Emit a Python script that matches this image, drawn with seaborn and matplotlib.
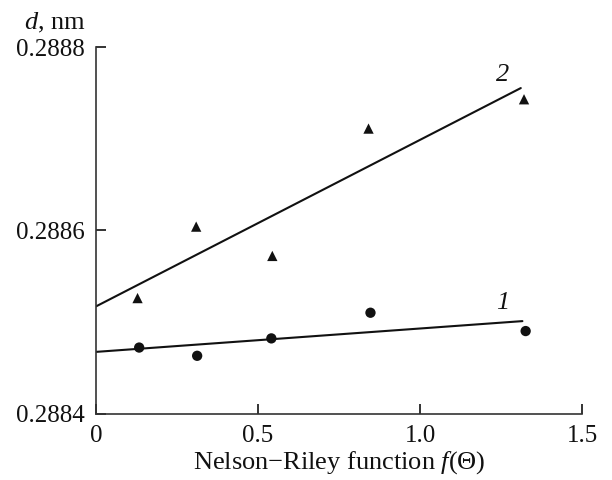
import numpy as np
import pandas as pd
import matplotlib
matplotlib.use("Agg")
import matplotlib.pyplot as plt
import seaborn as sns

# Nelson-Riley function values and interplanar spacing d (nm)
nr_x1 = [0.133, 0.312, 0.541, 0.847, 1.326]
d_1 = [0.288472, 0.288463, 0.288482, 0.288510, 0.288490]
nr_x2 = [0.128, 0.309, 0.544, 0.841, 1.321]
d_2 = [0.288526, 0.288604, 0.288572, 0.288711, 0.288743]
series_labels = ["1", "2"]

y_ticks = [0.2884, 0.2886, 0.2888]
y_tick_labels = ["0.2884", "0.2886", "0.2888"]
x_ticks = [0, 0.5, 1.0, 1.5]
x_tick_labels = ["0", "0.5", "1.0", "1.5"]

sns.set_theme(style="ticks")
plt.rcParams["font.family"] = ["Liberation Serif", "DejaVu Serif"]
plt.rcParams["mathtext.fontset"] = "custom"
plt.rcParams["mathtext.rm"] = "Liberation Serif"
plt.rcParams["mathtext.it"] = "Liberation Serif:italic"

ink = "#111111"
fig = plt.figure(figsize=(6.12, 4.8), dpi=100)
ax = fig.add_axes([0.157, 0.1385, 0.794, 0.7635])

df = pd.concat([
    pd.DataFrame({"x": nr_x1, "d": d_1, "s": series_labels[0]}),
    pd.DataFrame({"x": nr_x2, "d": d_2, "s": series_labels[1]}),
])

sns.scatterplot(data=df, x="x", y="d", style="s", markers={"1": "o", "2": "^"},
                hue="s", palette={"1": ink, "2": ink}, s=[55], linewidth=0,
                legend=False, ax=ax)

# least-squares lines through each series, with italic curve numbers
label_pos = {"1": (1.255, 0.0000095), "2": (1.255, 0.000012)}
for lab, xs, ys in [("1", nr_x1, d_1), ("2", nr_x2, d_2)]:
    k, b = np.polyfit(xs, ys, 1)
    xf = np.linspace(0, max(xs) - 0.01, 50)
    sns.lineplot(x=xf, y=k * xf + b, color=ink, linewidth=1.5, ax=ax)
    lx, dy = label_pos[lab]
    ax.text(lx, k * lx + b + dy, lab, fontsize=19, style="italic",
            ha="center", va="bottom", color=ink)

ax.set_xlim(0, 1.5)
ax.set_ylim(0.2884, 0.2888)
ax.set_xticks(x_ticks)
ax.set_xticklabels(x_tick_labels)
ax.set_yticks(y_ticks)
ax.set_yticklabels(y_tick_labels)
ax.tick_params(direction="in", length=7, width=1.2, colors=ink,
               labelsize=18, pad=8)
for sp in ["top", "right"]:
    ax.spines[sp].set_visible(False)
for sp in ["left", "bottom"]:
    ax.spines[sp].set_linewidth(1.2)
    ax.spines[sp].set_color("#333333")

ax.set_xlabel("Nelson\u2212Riley function $f$(\u0398)", fontsize=19, color=ink,
              labelpad=2)
ax.set_ylabel("")
fig.text(0.089, 0.953, "$d$, nm", fontsize=19, ha="center", va="center",
         color=ink)

fig.savefig("out.png", dpi=100)
